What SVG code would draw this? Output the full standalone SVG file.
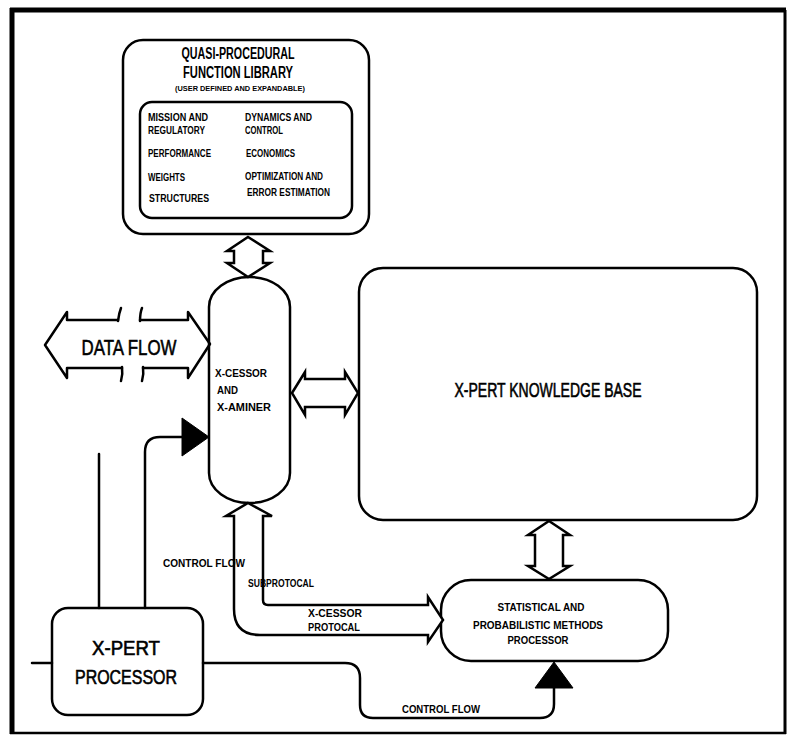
<svg xmlns="http://www.w3.org/2000/svg" width="788" height="736" viewBox="0 0 788 736">
<style>
.box{fill:#fff;stroke:#000;stroke-width:2.5}
.ln{fill:none;stroke:#000;stroke-width:2.5;stroke-linecap:round;stroke-linejoin:round}
.ha{fill:#fff;stroke:#000;stroke-width:2.5;stroke-linejoin:miter}
.tri{fill:#000;stroke:#000;stroke-width:1}
text{font-family:"Liberation Sans","DejaVu Sans",sans-serif;fill:#000}
.sm{font-size:10px;font-weight:bold}
.md{font-size:11px;font-weight:bold}
.big{font-size:20px}
.hv{stroke:#000;stroke-width:0.6}
.c{text-anchor:middle}
</style>
<rect width="788" height="736" fill="#fff"/>
<g id="frame">
<path d="M12,8 V734" stroke="#000" stroke-width="5" fill="none"/>
<path d="M10,10 H786" stroke="#000" stroke-width="5" fill="none"/>
<path d="M785,10 V734" stroke="#000" stroke-width="3" fill="none"/>
<path d="M10,733 H786" stroke="#000" stroke-width="2.5" fill="none"/>
</g>
<g id="library">
<rect class="box" x="123" y="40" width="246" height="194" rx="20"/>
<text class="c" x="238" y="59" font-size="16" font-weight="bold" textLength="113" lengthAdjust="spacingAndGlyphs">QUASI-PROCEDURAL</text>
<text class="c" x="238" y="78" font-size="16" font-weight="bold" textLength="110" lengthAdjust="spacingAndGlyphs">FUNCTION LIBRARY</text>
<text class="c" x="240" y="91" font-size="7" font-weight="bold" textLength="130" lengthAdjust="spacingAndGlyphs">(USER DEFINED AND EXPANDABLE)</text>
<rect class="box" x="140" y="102" width="212" height="116" rx="12"/>
<text class="sm" x="148" y="121" textLength="60" lengthAdjust="spacingAndGlyphs">MISSION AND</text>
<text class="sm" x="148" y="134" textLength="57" lengthAdjust="spacingAndGlyphs">REGULATORY</text>
<text class="sm" x="148" y="157" textLength="63" lengthAdjust="spacingAndGlyphs">PERFORMANCE</text>
<text class="sm" x="148" y="181" textLength="37" lengthAdjust="spacingAndGlyphs">WEIGHTS</text>
<text class="sm" x="149" y="202" textLength="60" lengthAdjust="spacingAndGlyphs">STRUCTURES</text>
<text class="sm" x="245" y="121" textLength="67" lengthAdjust="spacingAndGlyphs">DYNAMICS AND</text>
<text class="sm" x="245" y="134" textLength="38" lengthAdjust="spacingAndGlyphs">CONTROL</text>
<text class="sm" x="246" y="157" textLength="49" lengthAdjust="spacingAndGlyphs">ECONOMICS</text>
<text class="sm" x="245" y="180" textLength="78" lengthAdjust="spacingAndGlyphs">OPTIMIZATION AND</text>
<text class="sm" x="247" y="196" textLength="83" lengthAdjust="spacingAndGlyphs">ERROR ESTIMATION</text>
</g>
<g id="xcessor">
<path class="box" d="M209,307 A40.5,30 0 0 1 290,307 V473 A40.5,30 0 0 1 209,473 Z"/>
<text class="md" x="215" y="377" textLength="52" lengthAdjust="spacingAndGlyphs">X-CESSOR</text>
<text class="md" x="217" y="394" textLength="21" lengthAdjust="spacingAndGlyphs">AND</text>
<text class="md" x="217" y="411" textLength="54" lengthAdjust="spacingAndGlyphs">X-AMINER</text>
</g>
<g id="knowledge-base">
<rect class="box" x="359" y="268" width="398" height="252" rx="24"/>
<text class="c hv" x="548" y="397" font-size="20" textLength="187" lengthAdjust="spacingAndGlyphs">X-PERT KNOWLEDGE BASE</text>
</g>
<g id="stats">
<rect class="box" x="441" y="580" width="227" height="81" rx="30"/>
<text class="sm c" x="541" y="611" textLength="87" lengthAdjust="spacingAndGlyphs">STATISTICAL AND</text>
<text class="sm c" x="538" y="629" textLength="130" lengthAdjust="spacingAndGlyphs">PROBABILISTIC METHODS</text>
<text class="sm c" x="538" y="644" textLength="61" lengthAdjust="spacingAndGlyphs">PROCESSOR</text>
</g>
<g id="processor">
<rect class="box" x="52" y="608" width="151" height="107" rx="16"/>
<text class="big c hv" x="126" y="655" textLength="68" lengthAdjust="spacingAndGlyphs">X-PERT</text>
<text class="big c hv" x="126" y="684" textLength="102" lengthAdjust="spacingAndGlyphs">PROCESSOR</text>
</g>
<g id="connectors">
<path class="ha" d="M248,237 L270,251 L263,251 L263,263 L270,263 L248,277 L227,263 L234,263 L234,251 L227,251 Z"/>
<path class="ha" d="M292,393 L305,372 L305,379 L345,379 L345,372 L358,393 L345,415 L345,407 L305,407 L305,415 Z"/>
<path class="ha" d="M549,521 L570,535 L563,535 L563,566 L570,566 L549,579 L528,566 L535,566 L535,535 L528,535 Z"/>
<path class="ln" d="M118,320 H67 V312 L45,345 L67,378 V368 H122"/>
<path class="ln" d="M140,320 H188 V312 L210,344 L188,378 V368 H143"/>
<path class="ln" d="M118,321 Q119,313 121,308"/>
<path class="ln" d="M140,321 Q140,313 142,308"/>
<path class="ln" d="M122,367 Q123,374 121,381"/>
<path class="ln" d="M143,367 Q144,374 142,381"/>
<text class="c hv" x="129" y="355" font-size="22" textLength="95" lengthAdjust="spacingAndGlyphs">DATA FLOW</text>
<path class="ha" d="M248,503 L272,516 L263,516 L263,600 Q263,605 268,605 L428,605 L428,597 L443,620 L428,642 L428,635 L260,635 Q234,635 234,609 L234,516 L226,516 Z"/>
<path class="ln" d="M145,608 V452 Q145,437 160,437 H183"/>
<polygon class="tri" points="182,418 182,456 209,437"/>
<path class="ln" d="M99,454 V608"/>
<path class="ln" d="M32,663 H52"/>
<path class="ln" d="M203,663 H345 Q360,663 360,678 V705 Q360,718 373,718 H540 Q554,718 554,704 V688"/>
<polygon class="tri" points="535,688 573,688 554,662"/>
<text class="sm" x="163" y="567" textLength="82" lengthAdjust="spacingAndGlyphs">CONTROL FLOW</text>
<text class="sm" x="248" y="587" textLength="66" lengthAdjust="spacingAndGlyphs">SUBPROTOCAL</text>
<text class="sm" x="308" y="617" textLength="54" lengthAdjust="spacingAndGlyphs">X-CESSOR</text>
<text class="sm" x="308" y="631" textLength="52" lengthAdjust="spacingAndGlyphs">PROTOCAL</text>
<text class="sm" x="402" y="713" textLength="78" lengthAdjust="spacingAndGlyphs">CONTROL FLOW</text>
</g>
</svg>
